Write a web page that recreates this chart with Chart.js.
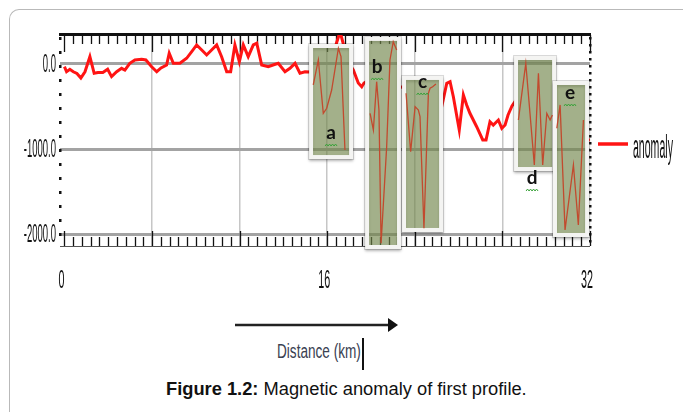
<!DOCTYPE html>
<html>
<head>
<meta charset="utf-8">
<script src="https://cdn.jsdelivr.net/npm/chart.js@4"></script>
<style>
  html, body { margin: 0; padding: 0; background: #fff; }
  body { width: 683px; height: 412px; position: relative; overflow: hidden; font-family: "Liberation Sans", Arial, sans-serif; }
  .frame { position: absolute; left: 9px; top: 9px; width: 720px; height: 440px; border-left: 1px solid #b9b9b9; border-top: 1px solid #b9b9b9; border-top-left-radius: 10px; }
  #wrap { position: absolute; left: 0; top: 0; width: 683px; height: 300px; }
  #arrow { position: absolute; left: 230px; top: 315px; }
  .xtitle { position: absolute; left: 277px; top: 340px; font-size: 20px; line-height: 22px; color: #3a4152; white-space: nowrap; transform: scaleX(0.68); transform-origin: 0 0; }
  .cursor { position: absolute; left: 362px; top: 338px; width: 2px; height: 32px; background: #111; }
  .caption { position: absolute; left: 166px; top: 379px; font-size: 18.3px; line-height: 20px; color: #111; white-space: nowrap; }
</style>
</head>
<body>
<div class="frame"></div>
<div id="wrap"><canvas id="chart" width="683" height="300"></canvas></div>
<svg id="arrow" width="180" height="22">
  <line x1="5" y1="10" x2="160" y2="10" stroke="#222" stroke-width="2.5"/>
  <polygon points="158,3 168,10 158,17" fill="#111"/>
</svg>
<div class="xtitle">Distance (km)</div>
<div class="cursor"></div>
<div class="caption"><b>Figure 1.2:</b> Magnetic anomaly of first profile.</div>

<script>
// main profile (km, nT)
const distanceKm = [0, 0.13, 0.33, 0.54, 0.76, 1.00, 1.25, 1.55, 1.81, 2.04, 2.34, 2.63, 2.87, 3.18, 3.48, 3.68,
  3.98, 4.29, 4.70, 4.96, 5.31, 5.62, 5.88, 6.22, 6.38, 6.63, 7.03, 7.44, 7.75, 8.05, 8.36, 8.66, 8.96, 9.27,
  9.57, 9.88, 10.12, 10.38, 10.65, 10.89, 11.19, 11.50, 11.71, 12.01, 12.41, 12.70, 13.02, 13.43, 13.73, 14.04,
  14.34, 14.65, 14.95, 15.44, 16.05, 16.53, 16.78, 17.08, 17.39, 17.59, 17.89, 18.10, 18.24, 18.73, 19.34,
  19.95, 20.31, 20.54, 21.04, 21.65, 22.26, 22.76, 22.97, 23.28, 23.48, 23.68, 24.04, 24.29, 24.49, 24.69,
  25.10, 25.47, 25.67, 25.91, 26.11, 26.42, 26.63, 26.83, 27.01, 27.25, 27.50, 28.35, 29.26, 30.18, 31.09, 32.00];
const anomalyNT = [-32, -91, -62, -91, -112, -165, -91, 86, -109, -100, -100, -62, -149, -91, -51, -71,
  8, 47, 55, 47, -32, -91, -47, -12, 126, 8, 8, 67, 145, 224, 165, 106, 165, 224,
  86, -91, -91, 224, 27, 224, 86, 224, 244, -12, -32, -12, 8, -91, -51, 8,
  -109, -91, -94, -12, 106, 224, 380, 165, -12, -71, -224, -267, -224, -165, -129,
  -188, -282, -271, -259, -329, -518, -679, -502, -227, -208, -385, -776, -365, -482, -580,
  -738, -894, -894, -679, -718, -659, -756, -718, -600, -494, -424, -518, -635, -776, -871, -894];

// highlighted windows a..e
const boxNames = ["a", "b", "c", "d", "e"];
const boxKmFrom = [15.14, 18.55, 20.80, 27.62, 29.99];
const boxKmTo = [17.33, 20.25, 22.81, 29.69, 31.70];
const boxTopNT = [188, 271, -188, 47, -247];
const boxBottomNT = [-1071, -2129, -1929, -1212, -1988];

// zoomed traces drawn inside each window
const zoomKmA = [15.15, 15.46, 15.76, 15.97, 16.27, 16.68, 16.84, 17.08];
const zoomNTA = [-247, 47, -580, -521, -306, 185, 86, -1012];
const zoomKmB = [18.61, 18.81, 19.01, 19.15, 19.28, 19.62, 19.82, 20.02, 20.23];
const zoomNTB = [-580, -776, -208, -541, -2109, -973, 47, 262, 165];
const zoomKmC = [20.80, 21.08, 21.35, 21.55, 21.65, 21.89, 22.16, 22.26, 22.42, 22.62];
const zoomNTC = [-345, -1032, -502, -541, -620, -1933, -345, -286, -267, -235];
const zoomKmD = [27.64, 28.09, 28.61, 28.86, 29.12, 29.37, 29.57, 29.71];
const zoomNTD = [-659, 8, -1188, -109, -1188, -580, -659, -600];
const zoomKmE = [29.98, 30.18, 30.48, 30.99, 31.29, 31.60];
const zoomNTE = [-756, -482, -1953, -1188, -1894, -659];

const xTickValues = [0, 16, 32];
const xTickLabels = ["0", "16", "32"];
const yTickValues = [0, -1000, -2000];
const legendLabel = "anomaly";

function pts(xs, ys) {
  return xs.map((x, i) => ({ x: x, y: ys[i] }));
}

function boxRect(chart, i) {
  const xs = chart.scales.x, ys = chart.scales.y;
  const x1 = xs.getPixelForValue(boxKmFrom[i]), x2 = xs.getPixelForValue(boxKmTo[i]);
  const y1 = ys.getPixelForValue(boxTopNT[i]), y2 = ys.getPixelForValue(boxBottomNT[i]);
  return { x: x1, y: y1, w: x2 - x1, h: y2 - y1 };
}

function squishText(ctx, text, x, y, sx, align) {
  ctx.save();
  ctx.translate(x, y);
  ctx.scale(sx, 1);
  ctx.textAlign = align;
  ctx.fillText(text, 0, 0);
  ctx.restore();
}

const profilePlugin = {
  id: "profile",
  beforeDatasetsDraw(chart) {
    const ctx = chart.ctx, a = chart.chartArea, xs = chart.scales.x;
    ctx.save();
    // minor / major ticks along top and bottom
    ctx.strokeStyle = "#111";
    ctx.lineWidth = 1.3;
    for (let i = 0; i <= 60; i++) {
      const px = Math.round(xs.getPixelForValue(i * 32 / 60)) + 0.5;
      const major = i % 10 === 0;
      ctx.beginPath();
      ctx.moveTo(px, a.top);
      ctx.lineTo(px, a.top + (major ? 17 : 9));
      ctx.moveTo(px, a.bottom);
      ctx.lineTo(px, a.bottom - (major ? 15 : 9));
      ctx.stroke();
    }
    // top border
    ctx.fillStyle = "#111";
    ctx.fillRect(a.left - 1, a.top - 2, a.right - a.left + 2, 3);
    // bottom border
    ctx.fillStyle = "#555";
    ctx.fillRect(a.left, a.bottom, a.right - a.left, 1);
    // dotted left and right axes
    ctx.fillStyle = "#111";
    for (let y = a.top + 2; y < a.bottom; y += 14) ctx.fillRect(a.left - 1, y, 2.5, 3);
    for (let y = a.top + 2; y < a.bottom; y += 7) ctx.fillRect(a.right - 1, y, 2.5, 2.5);
    ctx.restore();
  },
  beforeDatasetDraw(chart, args) {
    if (args.index !== 0) return;
    const ctx = chart.ctx;
    ctx.save();
    ctx.beginPath();
    ctx.rect(0, 0, chart.width, chart.height);
    boxNames.forEach((n, i) => {
      const r = boxRect(chart, i);
      ctx.rect(r.x - 3, r.y - 3, r.w + 6, r.h + 6);
    });
    ctx.clip("evenodd");
  },
  afterDatasetDraw(chart, args) {
    if (args.index !== 0) return;
    const ctx = chart.ctx;
    ctx.restore();
    ctx.save();
    boxNames.forEach((n, i) => {
      const r = boxRect(chart, i);
      ctx.save();
      ctx.shadowColor = "rgba(0,0,0,0.3)";
      ctx.shadowBlur = 3;
      ctx.shadowOffsetY = 2;
      ctx.strokeStyle = "#f4f4f2";
      ctx.lineWidth = 4;
      ctx.strokeRect(r.x - 2, r.y - 2, r.w + 4, r.h + 4);
      ctx.restore();
      ctx.strokeStyle = "rgba(0,0,0,0.15)";
      ctx.lineWidth = 1;
      ctx.strokeRect(r.x - 4.5, r.y - 4.5, r.w + 9, r.h + 9);
      ctx.fillStyle = "rgba(113,133,75,0.65)";
      ctx.fillRect(r.x, r.y, r.w, r.h);
    });
    ctx.restore();
  },
  afterDatasetsDraw(chart) {
    const ctx = chart.ctx;
    ctx.save();
    ctx.font = "bold 19px Lato, 'Open Sans', sans-serif";
    ctx.textBaseline = "middle";
    const place = ["bottom", "topleft", "top", "below", "top"];
    boxNames.forEach((n, i) => {
      const r = boxRect(chart, i);
      let x = r.x + r.w / 2, y;
      if (place[i] === "bottom") y = r.y + r.h - 22;
      else if (place[i] === "topleft") { x = r.x + 8; y = r.y + 26; }
      else if (place[i] === "top") y = r.y + (i === 2 ? 2 : 8);
      else { x -= 3; y = r.y + r.h + 11; }
      if (i === 4) x -= 1;
      ctx.fillStyle = "#111";
      ctx.textAlign = "center";
      ctx.fillText(n, x, y);
      // spell-check squiggle
      ctx.strokeStyle = "#3aa23a";
      ctx.lineWidth = 1;
      ctx.beginPath();
      for (let k = 0; k <= 8; k++) {
        const sx = x - 6 + k * 1.5, sy = y + 12 + (k % 2 ? -1 : 1);
        if (k === 0) ctx.moveTo(sx, sy); else ctx.lineTo(sx, sy);
      }
      ctx.stroke();
    });
    ctx.restore();
  },
  afterDraw(chart) {
    const ctx = chart.ctx, xs = chart.scales.x, ys = chart.scales.y;
    ctx.save();
    ctx.fillStyle = "#111";
    ctx.textBaseline = "middle";
    ctx.font = "25px 'Liberation Sans', Arial, sans-serif";
    yTickValues.forEach(v => squishText(ctx, v.toFixed(1), 56, ys.getPixelForValue(v) + 1, 0.38, "right"));
    xTickValues.forEach((v, i) => squishText(ctx, xTickLabels[i], xs.getPixelForValue(v) - 3, 281, 0.43, "center"));
    // legend
    ctx.strokeStyle = "rgb(255,20,20)";
    ctx.lineWidth = 3.5;
    ctx.beginPath();
    ctx.moveTo(598, 144);
    ctx.lineTo(628, 144);
    ctx.stroke();
    ctx.font = "33px 'Liberation Sans', Arial, sans-serif";
    squishText(ctx, legendLabel, 633, 149, 0.32, "left");
    ctx.restore();
  }
};

const zoomStyle = { borderColor: "#c24a2e", borderWidth: 1.3, pointRadius: 0, tension: 0, order: 0 };

new Chart(document.getElementById("chart"), {
  type: "line",
  data: {
    datasets: [
      { label: legendLabel, data: pts(distanceKm, anomalyNT), borderColor: "rgb(255,20,20)", borderWidth: 3,
        pointRadius: 0, tension: 0, order: 10 },
      Object.assign({ label: "a", data: pts(zoomKmA, zoomNTA) }, zoomStyle),
      Object.assign({ label: "b", data: pts(zoomKmB, zoomNTB) }, zoomStyle),
      Object.assign({ label: "c", data: pts(zoomKmC, zoomNTC) }, zoomStyle),
      Object.assign({ label: "d", data: pts(zoomKmD, zoomNTD) }, zoomStyle),
      Object.assign({ label: "e", data: pts(zoomKmE, zoomNTE) }, zoomStyle)
    ]
  },
  options: {
    responsive: false,
    animation: false,
    layout: { padding: { left: 60, top: 35, right: 93, bottom: 54 } },
    plugins: { legend: { display: false }, tooltip: { enabled: false } },
    scales: {
      x: {
        type: "linear", min: -0.27, max: 32,
        afterBuildTicks: s => { s.ticks = [0, 1, 2, 3, 4, 5, 6].map(k => ({ value: k * 16 / 3 })); },
        ticks: { display: false },
        border: { display: false },
        grid: {
          drawTicks: false,
          lineWidth: 1.5,
          color: c => (c.index === 0 || c.index === 6) ? "rgba(0,0,0,0)" : "#c6c6c6"
        }
      },
      y: {
        type: "linear", min: -2141, max: 341,
        afterBuildTicks: s => { s.ticks = yTickValues.map(v => ({ value: v })); },
        ticks: { display: false },
        border: { display: false },
        grid: { drawTicks: false, lineWidth: 3, color: "#a3a3a3" }
      }
    }
  },
  plugins: [profilePlugin]
});
</script>
</body>
</html>
